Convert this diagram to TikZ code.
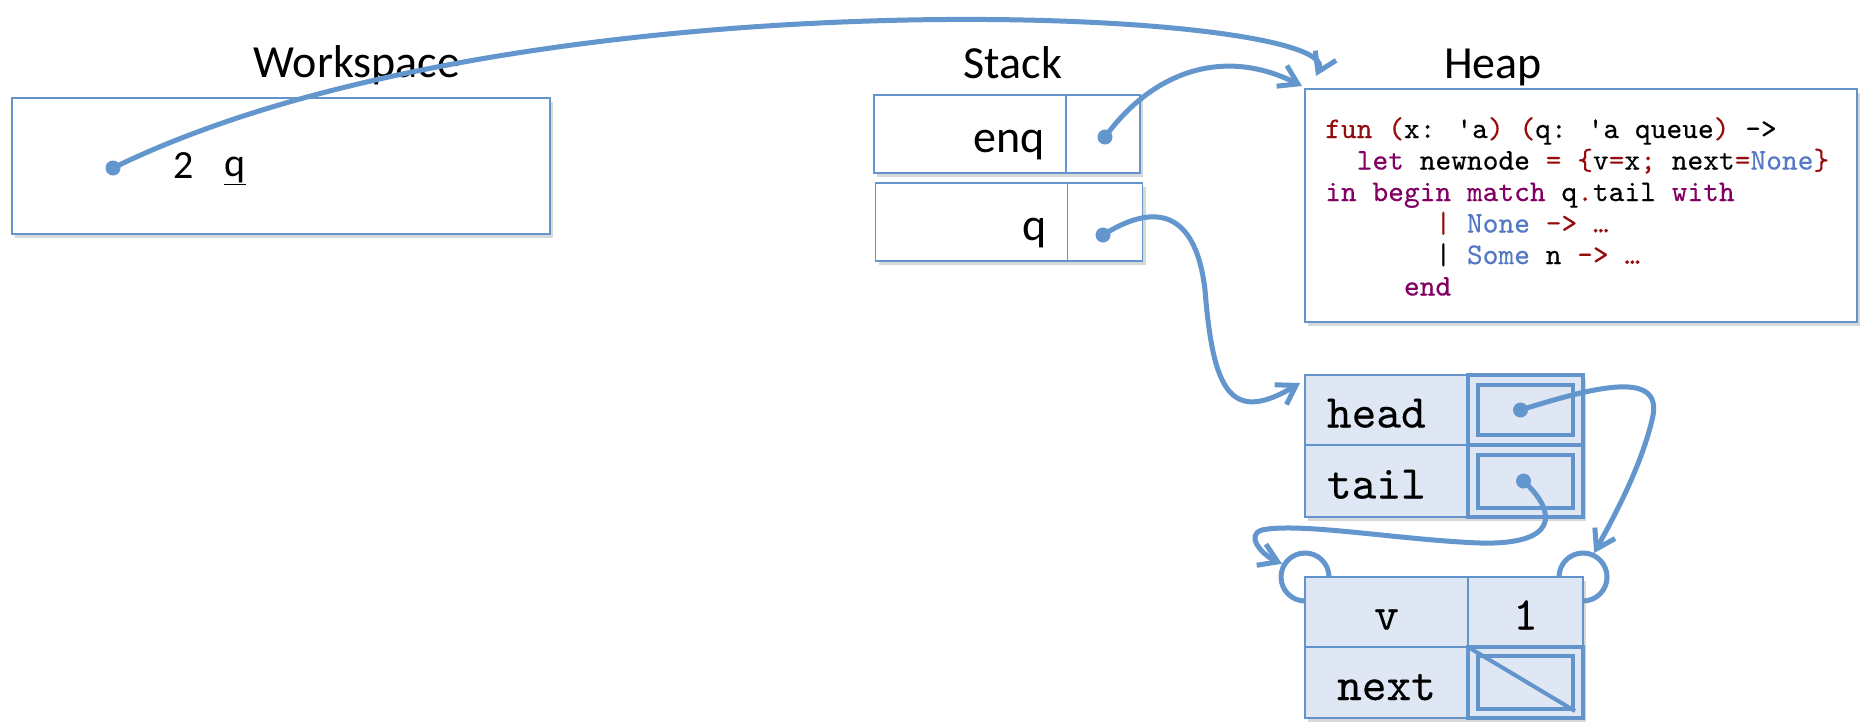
\documentclass[tikz,border=0pt]{standalone}
\usepackage{fontspec}
\setmainfont{Carlito}
\newfontfamily\codefont{lmmono10-regular.otf}[FakeBold=0.3]
\usepackage{tikz}
\usetikzlibrary{arrows.meta, positioning, shadows, backgrounds}

\definecolor{wireblue}{RGB}{99,150,205}
\definecolor{boxblue}{RGB}{100,148,204}
\definecolor{recfill}{RGB}{222,231,243}
\definecolor{kwred}{RGB}{150,12,12}
\definecolor{kwpurple}{RGB}{130,0,100}
\definecolor{ctorblue}{RGB}{85,120,195}

\newcommand{\kw}[1]{\textcolor{kwpurple}{#1}}
\newcommand{\sym}[1]{\textcolor{kwred}{#1}}
\newcommand{\ctor}[1]{\textcolor{ctorblue}{#1}}

\tikzset{
  membox/.style={draw=boxblue, line width=1.8pt, fill=white, inner sep=0pt, outer sep=0pt,
    drop shadow={shadow xshift=3pt, shadow yshift=-4pt, opacity=.3}},
  areatitle/.style={font=\fontsize{46pt}{50pt}\selectfont, anchor=base, inner sep=0pt},
  wstext/.style={font=\fontsize{40pt}{44pt}\selectfont, anchor=base, inner sep=0pt},
  stackname/.style={membox, minimum width=192pt, minimum height=78pt, text width=150pt, align=right,
    font=\fontsize{46pt}{50pt}\selectfont, text height=37pt, text depth=0pt},
  stackptr/.style={membox, minimum width=74pt, minimum height=78pt},
  recname/.style={draw=boxblue, line width=2.5pt, fill=recfill, inner sep=0pt, outer sep=0pt,
    minimum width=163pt, minimum height=70pt, font=\codefont\fontsize{47pt}{50pt}\selectfont,
    text height=35pt, text depth=0pt, drop shadow={shadow xshift=3pt, shadow yshift=-4pt, opacity=.3}},
  recptr/.style={recname, line width=4pt, minimum width=115pt},
  ptrbox/.style={draw=boxblue, line width=4pt, minimum width=95pt, minimum height=50pt, inner sep=0pt},
  ptrdot/.style={circle, fill=wireblue, minimum size=15pt, inner sep=0pt},
  ring/.style={circle, draw=wireblue, line width=5pt, minimum size=48pt, inner sep=0pt},
  code/.style={font=\codefont\fontsize{30pt}{31.5pt}\selectfont, align=left, inner sep=0pt},
  wire/.style={draw=wireblue, line width=5pt, line cap=round, ->}
}

\begin{document}
\begin{tikzpicture}[x=1pt, y=-1pt, >={Straight Barb[length=18pt, width=23pt]}]
  \useasboundingbox (0,0) rectangle (1867,721);
  \begin{scope}[on background layer]
    \fill[white] (0,0) rectangle (1867,721);
  \end{scope}

  \node[areatitle] (wstitle) at (357,77) {Workspace};
  \node[areatitle] (stacktitle) at (1013,78) {Stack};
  \node[areatitle] (heaptitle) at (1493,78) {Heap};

  \node[membox, minimum width=538pt, minimum height=136pt] (ws) at (281,166) {};
  \node[wstext] (wsval) at (184,178) {2};
  \node[wstext] (wsname) at (235,176) {\underline{q}};
  \node[ptrdot] (wsdot) at (113,168) {};

  \node[stackname] (enqname) at (970,134) {enq};
  \node[stackptr, right=0pt of enqname] (enqptr) {};
  \node[stackname] (qname) at (971.5,222) {q};
  \node[stackptr, minimum width=75pt, right=0pt of qname] (qptr) {};
  \node[ptrdot] (enqdot) at ([xshift=2pt, yshift=-3pt]enqptr.center) {};
  \node[ptrdot] (qdot) at ([xshift=-2pt, yshift=-13pt]qptr.center) {};

  \node[membox, minimum width=552pt, minimum height=233pt] (heap) at (1581,205.5) {};
  \node[code, anchor=north west] (heapcode) at (1325,117) {%
\sym{fun} \sym{(}x: \textquotesingle a\sym{)} \sym{(}q: \textquotesingle a queue\sym{)} ->\\
\ \ \kw{let} newnode \sym{=} \sym{\{}v\sym{=}x\sym{;} next\sym{=}\ctor{None}\sym{\}}\\
\kw{in begin match} q\sym{.}tail \kw{with}\\
\ \ \ \ \ \ \ \sym{|} \ctor{None} \sym{-> …}\\
\ \ \ \ \ \ \ | \ctor{Some} n \sym{-> …}\\
\ \ \ \ \ \kw{end}};

  \node[recname, text width=119pt, align=left] (headname) at (1386.5,410) {head};
  \node[recptr, right=0pt of headname] (headptr) {};
  \node[recname, text width=119pt, align=left, minimum height=72pt, below=0pt of headname] (tailname) {tail};
  \node[recptr, minimum height=72pt, right=0pt of tailname] (tailptr) {};
  \node[ptrbox] (headbox) at (headptr.center) {};
  \node[ptrbox, minimum height=53pt] (tailbox) at (tailptr.center) {};
  \node[ptrdot] (headdot) at ([xshift=-5pt]headbox.center) {};
  \node[ptrdot] (taildot) at ([xshift=-2pt]tailbox.center) {};

  \node[recname] (vname) at (1386.5,612) {v};
  \node[recname, minimum width=115pt, right=0pt of vname] (vval) {1};
  \node[recname, minimum height=71pt, below=0pt of vname] (nextname) {next};
  \node[recptr, minimum height=71pt, right=0pt of nextname] (nextptr) {};
  \node[ptrbox, minimum height=53pt] (nextbox) at (nextptr.center) {};
  \draw[draw=boxblue, line width=4pt] (nextptr.north west) -- (nextbox.south east);

  \begin{scope}[on background layer]
    \node[ring] (lring) at (vname.north west) {};
    \node[ring] (rring) at (vval.north east) {};
  \end{scope}

  \coordinate (heaptip) at (1316,76);
  \draw[wire] (wsdot.center) .. controls (520,-32) and (1348,8) .. (heaptip);
  \draw[wire] (enqdot.center) .. controls (1150,75) and (1220,45) .. ([xshift=-3pt, yshift=3pt]heap.north west);
  \draw[wire] (qdot.center) .. controls (1150,205) and (1195,205) .. (1205,290)
    .. controls (1213,390) and (1230,425) .. ([xshift=-5pt, yshift=-8pt]headname.north west);
  \draw[wire] (headdot.center) .. controls (1600,385) and (1665,370) .. (1652,420)
    .. controls (1640,470) and (1612,520) .. (rring.65);
  \draw[wire] (taildot.center) .. controls (1560,515) and (1555,545) .. (1480,543)
    .. controls (1400,540) and (1300,522) .. (1262,530)
    .. controls (1245,535) and (1262,555) .. (lring.150);
\end{tikzpicture}
\end{document}
